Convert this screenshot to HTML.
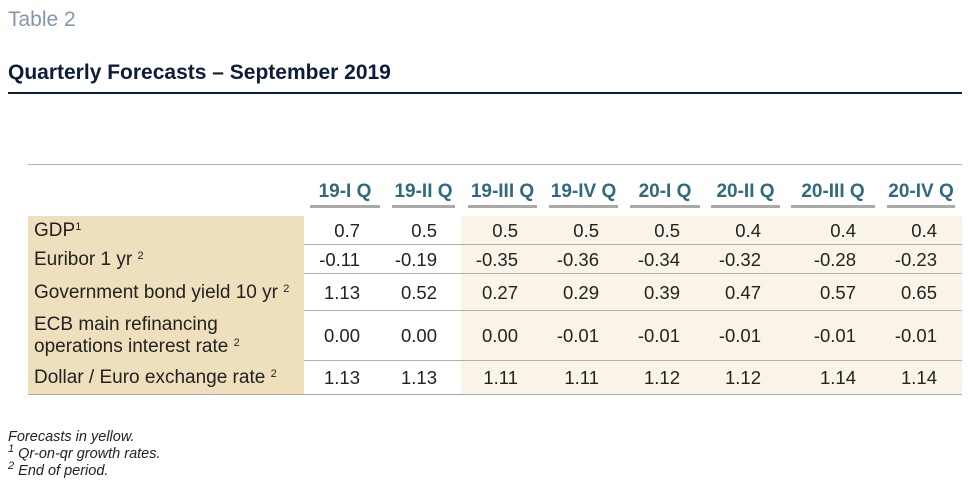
<!DOCTYPE html>
<html><head><meta charset="utf-8">
<style>
body{margin:0;width:969px;height:486px;background:#fff;position:relative;overflow:hidden;font-family:"Liberation Sans",Arial,sans-serif;}
.a{position:absolute;white-space:nowrap;}
.hd{font-weight:bold;color:#2f6a7e;font-size:19px;line-height:22px;}
.num{font-size:18.5px;color:#222;text-align:right;}
.lbl{font-size:19px;color:#222;}
.fn{font-size:14.5px;font-style:italic;color:#222;line-height:16px;}
sup{font-size:11px;line-height:0;vertical-align:6px;}
</style></head><body>
<div class="a" style="left:8px;top:8px;font-size:21px;color:#8596ad;">Table 2</div>
<div class="a" style="left:8px;top:61px;font-size:21px;font-weight:bold;color:#0d1c3a;">Quarterly Forecasts – September 2019</div>
<div class="a" style="left:8px;top:92px;width:954px;height:2px;background:#0d1c3a;"></div>
<div class="a" style="left:28px;top:164px;width:934px;height:1px;background:#b5b5b5;"></div>
<div class="a" style="left:28px;top:216px;width:276px;height:179px;background:#eedfbd;"></div>
<div class="a" style="left:461px;top:216px;width:501px;height:179px;background:#faf4e8;"></div>
<div id="t"></div>
<div class="a" style="left:28px;top:394px;width:934px;height:1px;background:#a8a8a8;"></div>
<div class="a fn" style="left:8px;top:429px;">Forecasts in yellow.</div>
<div class="a fn" style="left:8px;top:446px;"><sup>1</sup> Qr-on-qr growth rates.</div>
<div class="a fn" style="left:8px;top:463px;"><sup>2</sup> End of period.</div>
<script>
const quarters=["19-I Q","19-II Q","19-III Q","19-IV Q","20-I Q","20-II Q","20-III Q","20-IV Q"];
const labels=["GDP<sup>1</sup>","Euribor 1 yr <sup>2</sup>","Government bond yield 10 yr <sup>2</sup>","ECB main refinancing<br>operations interest rate <sup>2</sup>","Dollar / Euro exchange rate <sup>2</sup>"];
const gdp=["0.7","0.5","0.5","0.5","0.5","0.4","0.4","0.4"];
const euribor=["-0.11","-0.19","-0.35","-0.36","-0.34","-0.32","-0.28","-0.23"];
const bond=["1.13","0.52","0.27","0.29","0.39","0.47","0.57","0.65"];
const ecb=["0.00","0.00","0.00","-0.01","-0.01","-0.01","-0.01","-0.01"];
const fx=["1.13","1.13","1.11","1.11","1.12","1.12","1.14","1.14"];
const rows=[gdp,euribor,bond,ecb,fx];
const colL=[310,392,468,549,630,711,791,887],colR=[380,455,537,618,700,780,875,955];
const numR=[360,437,518,599,680,761,856,937];
const rowTop=[216,245,274,311,361],rowBot=[245,274,311,361,395];
const t=document.getElementById('t');
function mk(cls,st,html){const d=document.createElement('div');d.className='a '+cls;d.style.cssText=st;d.innerHTML=html;t.appendChild(d);return d;}
quarters.forEach((q,i)=>{
 const h=mk('hd',`left:${colL[i]-10}px;top:181px;width:${colR[i]-colL[i]+20}px;text-align:center;`,q);
 
 
 const u=mk('',`left:${colL[i]}px;top:205px;width:${colR[i]-colL[i]}px;height:3px;background:#a9a9a9;`,'');
 
 
});
labels.forEach((l,r)=>{
 const mid=(rowTop[r]+rowBot[r])/2;
 const two=r===3;
 const d=mk('lbl',`left:34px;top:${mid-(two?22:11)}px;line-height:22px;`,l);
 
 
 if(r<4){const s=mk('',`left:304px;top:${rowBot[r]-1}px;width:658px;height:1px;background:#b0b0b0;`,'');
 
 }
 rows[r].forEach((v,i)=>{
  const c=mk('num',`left:${numR[i]-80}px;width:80px;top:${mid-11}px;line-height:22px;`,v);
  
  
 });
});
</script>
</body></html>
